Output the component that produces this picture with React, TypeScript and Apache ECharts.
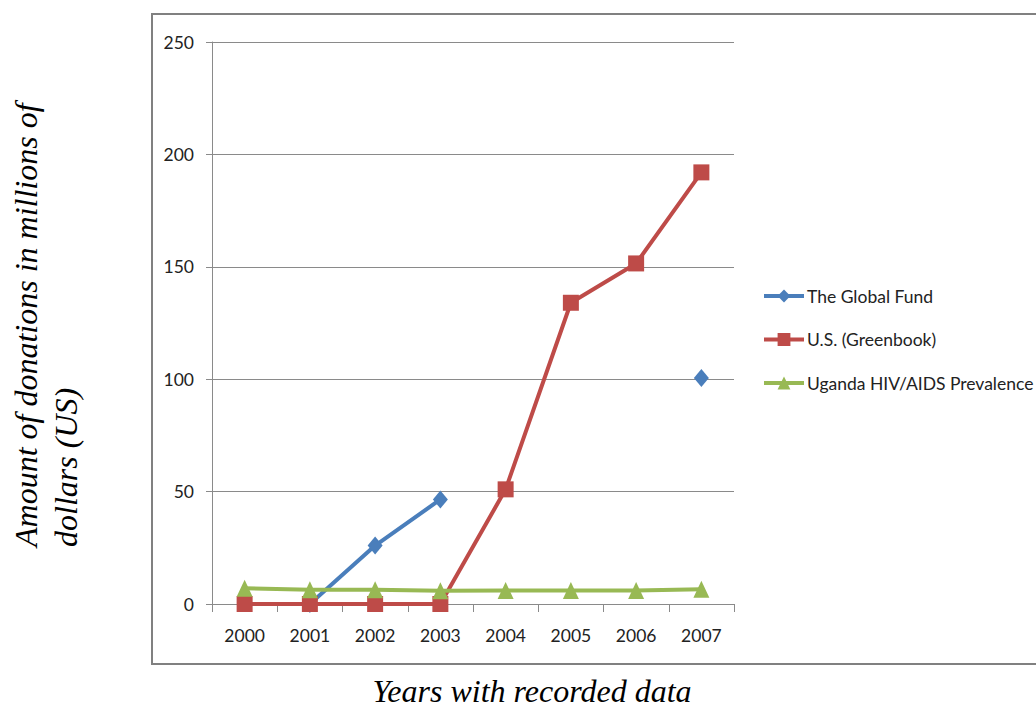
import React, { useEffect, useRef } from "react";
import * as echarts from "echarts";

const years = ["2000", "2001", "2002", "2003", "2004", "2005", "2006", "2007"];
const globalFund: (number | string)[] = ["-", 0, 26, 46.5, "-", "-", "-", 100.5];
const usGreenbook = [0, 0, 0, 0, 51, 134, 151.5, 192];
const ugandaPrevalence = [7, 6.3, 6.3, 5.9, 6, 6, 6, 6.6];
const yTicks = { min: 0, max: 250, interval: 50 };

export default function App() {
  const ref = useRef<HTMLDivElement>(null);
  useEffect(() => {
    if (!ref.current) return;
    const chart = echarts.init(ref.current, undefined, { renderer: "svg" });
    const labelFont = "Lato, 'Open Sans', sans-serif";
    const titleFont = "'Liberation Serif', 'Times New Roman', serif";
    chart.setOption({
      animation: false,
      backgroundColor: "#ffffff",
      grid: { left: 212, right: 302, top: 42, bottom: 104, containLabel: false },
      xAxis: {
        type: "category",
        data: years,
        boundaryGap: true,
        axisLine: { lineStyle: { color: "#8a8a8a", width: 1 } },
        axisTick: { show: true, length: 8, lineStyle: { color: "#8a8a8a" } },
        axisLabel: { color: "#222", fontSize: 17.5, fontFamily: labelFont, margin: 22 },
        splitLine: { show: false },
      },
      yAxis: {
        type: "value",
        min: yTicks.min,
        max: yTicks.max,
        interval: yTicks.interval,
        axisLine: { show: true, lineStyle: { color: "#8a8a8a", width: 1 } },
        axisTick: { show: true, length: 6, lineStyle: { color: "#8a8a8a" } },
        axisLabel: { color: "#222", fontSize: 17.5, fontFamily: labelFont, margin: 18 },
        splitLine: { show: true, lineStyle: { color: "#8a8a8a", width: 1 } },
      },
      legend: {
        orient: "vertical",
        left: 762,
        top: 287,
        padding: 0,
        itemWidth: 40,
        itemHeight: 16,
        itemGap: 25.5,
        lineStyle: { width: 4 },
        textStyle: { color: "#222", fontSize: 17.5, fontFamily: labelFont, padding: [0, 0, 0, -2] },
        data: ["The Global Fund", "U.S. (Greenbook)", "Uganda HIV/AIDS Prevalence"],
      },
      series: [
        {
          name: "The Global Fund",
          type: "line",
          data: globalFund,
          connectNulls: false,
          symbol: "diamond",
          symbolSize: [15, 18],
          itemStyle: { color: "#4A7EBB" },
          lineStyle: { color: "#4A7EBB", width: 4 },
        },
        {
          name: "U.S. (Greenbook)",
          type: "line",
          data: usGreenbook,
          symbol: "rect",
          symbolSize: 16,
          itemStyle: { color: "#BE4B48" },
          lineStyle: { color: "#BE4B48", width: 4 },
        },
        {
          name: "Uganda HIV/AIDS Prevalence",
          type: "line",
          data: ugandaPrevalence,
          symbol: "triangle",
          symbolSize: [16, 17],
          itemStyle: { color: "#98B954" },
          lineStyle: { color: "#98B954", width: 4 },
        },
      ],
      graphic: [
        {
          type: "rect",
          shape: { x: 152, y: 14, width: 960, height: 650 },
          style: { fill: "none", stroke: "#808080", lineWidth: 2 },
          silent: true,
          z: -1,
        },
        {
          type: "text",
          x: 46,
          y: 547,
          rotation: Math.PI / 2,
          style: {
            text: "Amount of donations in millions of\ndollars (US)",
            fontFamily: titleFont,
            fontStyle: "italic",
            fontSize: 32,
            fill: "#000",
            textAlign: "left",
            textVerticalAlign: "middle",
            lineHeight: 40,
          },
        },
        {
          type: "text",
          x: 532,
          y: 691,
          style: {
            text: "Years with recorded data",
            fontFamily: titleFont,
            fontStyle: "italic",
            fontSize: 32,
            fill: "#000",
            textAlign: "center",
            textVerticalAlign: "middle",
          },
        },
      ],
    });
    return () => chart.dispose();
  }, []);
  return <div ref={ref} style={{ width: 1036, height: 708, position: "absolute", left: 0, top: 0 }} />;
}
